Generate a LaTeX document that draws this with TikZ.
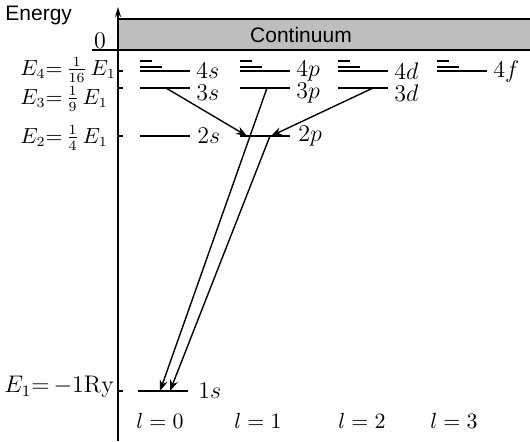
\documentclass[tikz,border=0pt]{standalone}
\usepackage{fontspec}
\setsansfont{Liberation Sans}
\usetikzlibrary{arrows.meta,positioning,calc}
\definecolor{cont}{HTML}{BEBEBE}
\tikzset{lev/.style={minimum width=25pt,minimum height=0pt,inner sep=0pt,outer sep=0pt},levline/.style={line width=.9pt},nl/.style={anchor=west,inner sep=0pt,font=\fontsize{12}{14}\selectfont},elab/.style={anchor=west,inner sep=0pt,font=\fontsize{10.5}{13}\selectfont},llab/.style={inner sep=0pt,font=\fontsize{10.5}{12}\selectfont},arrow/.style={-{Stealth[length=5.5pt,width=4pt]},line width=.7pt}}

\begin{document}
\begin{tikzpicture}[x=0.5pt,y=-0.5pt]
\useasboundingbox (0,0) rectangle (530,441);
\fill[cont] (118,19) rectangle (530,50);
\draw[line width=.7pt] (118,19) -- (530,19);
\draw[line width=.9pt] (92,50) -- (530,50);
\node[font=\sffamily\fontsize{10.5}{12}\selectfont] (cont) at (301,35) {Continuum};
\node[anchor=west,inner sep=0pt,font=\sffamily\fontsize{10.5}{12}\selectfont] (energy) at (5,15) {Energy};
\node[inner sep=0pt,font=\fontsize{11.5}{13}\selectfont] (zero) at (100,41) {$0$};
\coordinate (bot) at (118,441);
\coordinate (top) at (118,7);
\draw[-{Stealth[length=5pt,width=3pt]},line width=.8pt] (bot) -- (top);
% levels
\foreach \n/\x/\y in {1s/163/391,2s/165/136,2p/265/136,3s/165/88,3p/265/88,3d/363/88,4s/165/71,4p/265/71,4d/363/71,4f/462/71}
 {\node[lev] (\n) at (\x,\y) {};
  \draw[levline] (\n.west) -- (\n.east);}
\foreach \n in {4s,4p,4d,4f}
 {\draw[levline] ([yshift=2pt]\n.west) -- ++(22,0);
  \draw[levline] ([yshift=5pt]\n.west) -- ++(12,0);
  \node[nl] at ([xshift=3pt]\n.east) {$\n$};}
\foreach \n in {3s,3p,3d}
 \node[nl] at ([xshift=3pt,yshift=-2.5pt]\n.east) {$\n$};
\node[nl] at ([xshift=3.5pt]2s.east) {$2s$};
\node[nl] at ([xshift=4pt]2p.east) {$2p$};
\node[nl] at ([xshift=5pt]1s.east) {$1s$};
% ticks
\foreach \n in {4s,3s,2s,1s}
 \draw[line width=.6pt] (bot|-\n.center) -- ++(5,0);
\node[elab] (e4) at (20,70) {$E_4{=}\,\frac{1}{16}\,E_1$};
\node[elab] (e3) at (20,99) {$E_3{=}\,\frac{1}{9}\,E_1$};
\node[elab] (e2) at (20,138) {$E_2{=}\,\frac{1}{4}\,E_1$};
\node[elab,font=\fontsize{12}{14}\selectfont] (e1) at (4,387) {$E_1{=}\,{-}1\mathrm{Ry}$};
\node[llab] (l0) at (160,421) {$l=0$};
\node[llab] (l1) at (258,421) {$l=1$};
\node[llab] (l2) at (362,421) {$l=2$};
\node[llab] (l3) at (454,421) {$l=3$};
% transitions
\draw[arrow] ($(3s.west)!.52!(3s.east)$) -- ($(2p.west)!.14!(2p.east)$);
\draw[arrow] ($(3d.west)!.7!(3d.east)$) -- ($(2p.west)!.62!(2p.east)$);
\draw[arrow] ($(3p.west)!.54!(3p.east)$) -- ($(1s.west)!.44!(1s.east)$);
\draw[arrow] ($(2p.west)!.6!(2p.east)$) -- ($(1s.west)!.64!(1s.east)$);
\end{tikzpicture}
\end{document}
